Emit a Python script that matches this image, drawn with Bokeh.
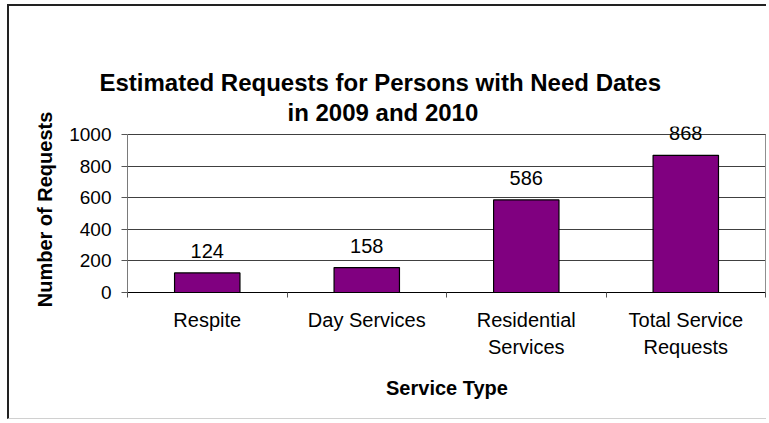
from bokeh.plotting import figure
from bokeh.models import ColumnDataSource, Range1d, FixedTicker, LabelSet, Title
from bokeh.core.properties import value
from bokeh.embed import file_html
from bokeh.resources import INLINE

# ---- data ----
categories = ["Respite", "Day Services", "Residential\nServices", "Total Service\nRequests"]
requests = [124, 158, 586, 868]
y_ticks = [0, 200, 400, 600, 800, 1000]
title_lines = ["Estimated Requests for Persons with Need Dates", "in 2009 and  2010"]
x_title = "Service Type"
y_title = "Number of Requests"

FONT = "Liberation Sans"

positions = [i + 0.5 for i in range(len(categories))]
boundaries = list(range(len(categories) + 1))
src = ColumnDataSource(dict(x=positions, top=requests, label=[str(v) for v in requests]))

W, H = 759, 415
MB_TOP, MB_BOTTOM, MB_LEFT, MB_RIGHT = 120, 129, 118, 2
frame_h = H - MB_TOP - MB_BOTTOM
px_per_unit = 158.0 / max(y_ticks)          # 1000 units span 158 px
y_end = frame_h / px_per_unit                # a little head-room above 1000 for the value label
x_end = len(categories) + 0.006

p = figure(width=W, height=H, output_backend="svg", toolbar_location=None, title=None,
           x_range=Range1d(0, x_end), y_range=Range1d(0, y_end),
           min_border_left=MB_LEFT, min_border_right=MB_RIGHT,
           min_border_top=MB_TOP, min_border_bottom=MB_BOTTOM)
p.styles = {"margin-left": "7px", "margin-top": "4px",
            "border-left": "2px solid #222222", "border-top": "2px solid #222222",
            "border-bottom": "1px solid #d0d0d0"}
p.outline_line_color = None

p.vbar(x="x", top="top", width=0.41, source=src, fill_color="#800080",
       line_color="#000000", line_width=1.2)

# right border of the plot area
p.segment(x0=[len(categories)], y0=[0], x1=[len(categories)], y1=[max(y_ticks)],
          line_color="#8c8c8c", line_width=1)

p.xgrid.visible = False
p.ygrid.ticker = FixedTicker(ticks=y_ticks)
p.ygrid.grid_line_color = "#404040"
p.ygrid.grid_line_width = 1

# y axis
yax = p.yaxis[0]
yax.ticker = FixedTicker(ticks=y_ticks)
yax.bounds = (0, max(y_ticks))
yax.axis_line_color = "#7a7a7a"
yax.major_tick_line_color = "#555555"
yax.major_tick_out = 6
yax.major_tick_in = 0
yax.minor_tick_line_color = None
yax.major_label_standoff = 10
yax.major_label_text_font = FONT
yax.major_label_text_font_size = "19px"
yax.major_label_text_color = "#000000"
yax.axis_label = y_title
yax.axis_label_text_font = FONT
yax.axis_label_text_font_size = "20px"
yax.axis_label_text_font_style = "bold"
yax.axis_label_text_color = "#000000"
yax.axis_label_standoff = 10

# x axis
xax = p.xaxis[0]
xax.ticker = FixedTicker(ticks=positions, minor_ticks=boundaries)
xax.bounds = (0, len(categories))
overrides = {}
for pos, cat in zip(positions, categories):
    overrides[pos] = cat
    overrides[str(pos)] = cat
xax.major_label_overrides = overrides
xax.axis_line_color = "#000000"
xax.major_tick_line_color = None
xax.major_tick_out = 0
xax.major_tick_in = 0
xax.minor_tick_line_color = "#555555"
xax.minor_tick_out = 5
xax.minor_tick_in = 0
xax.major_label_standoff = 11
xax.major_label_text_font = FONT
xax.major_label_text_font_size = "20px"
xax.major_label_text_color = "#000000"
xax.major_label_text_line_height = 1.24
xax.axis_label = x_title
xax.axis_label_text_font = FONT
xax.axis_label_text_font_size = "20px"
xax.axis_label_text_font_style = "bold"
xax.axis_label_text_color = "#000000"
xax.axis_label_standoff = 16

# value labels
p.add_layout(LabelSet(x="x", y="top", text="label", source=src, y_offset=15,
                      text_align="center", text_baseline="alphabetic",
                      text_font=value(FONT), text_font_size=value("20px"), text_color="#000000"))

# blank spacer between the frame and the title block
p.add_layout(Title(text=" ", standoff=42, text_font=FONT, text_font_size="1px",
                   text_alpha=0), "above")

# title (two lines); later-added titles sit further from the frame
p.add_layout(Title(text=title_lines[1], align="left", offset=160, standoff=2, text_font=FONT,
                   text_font_size="24px", text_font_style="bold", text_color="#000000"), "above")
p.add_layout(Title(text=title_lines[0], align="left", offset=-28, standoff=0, text_font=FONT,
                   text_font_size="24px", text_font_style="bold", text_color="#000000"), "above")

open("out.html", "w").write(file_html(p, INLINE))
